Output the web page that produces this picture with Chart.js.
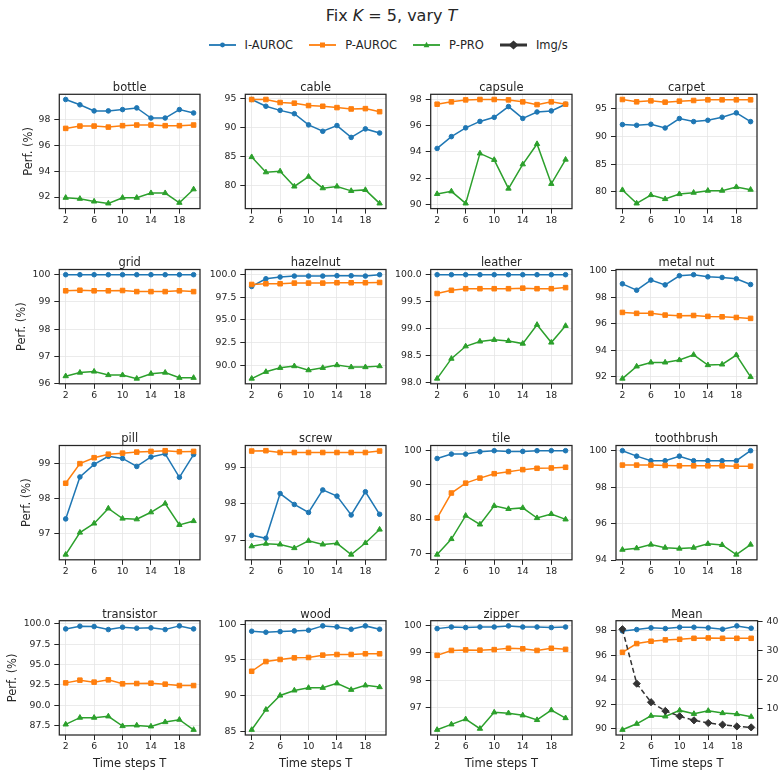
<!DOCTYPE html>
<html><head><meta charset="utf-8">
<script src="https://cdn.jsdelivr.net/npm/chart.js@4.4.0/dist/chart.umd.min.js"></script>
<style>
html,body{margin:0;padding:0;background:#fff;width:783px;height:778px;overflow:hidden;position:relative;font-family:'DejaVu Sans',sans-serif;color:#262626}
canvas{position:absolute}
#title{position:absolute;left:0;width:783px;top:5.5px;text-align:center;font-size:16px;line-height:20px;white-space:nowrap}
#legend{position:absolute;left:208.5px;top:38px;display:flex;align-items:center;font-size:11.5px;line-height:14px;white-space:nowrap}
.item{display:flex;align-items:center;margin-right:16px}
.item:last-child{margin-right:0}
.item svg{margin-right:9px;display:block}
</style></head><body>
<div id="title">Fix <i>K</i> = 5, vary <i>T</i></div>
<div id="legend">
 <div class="item"><svg width="27" height="14"><line x1="0" y1="7" x2="27" y2="7" stroke="#1f77b4" stroke-width="1.8"/><circle cx="13.5" cy="7" r="2.4" fill="#1f77b4"/></svg><span>I-AUROC</span></div>
 <div class="item"><svg width="27" height="14"><line x1="0" y1="7" x2="27" y2="7" stroke="#ff7f0e" stroke-width="1.8"/><rect x="11" y="4.5" width="5" height="5" fill="#ff7f0e"/></svg><span>P-AUROC</span></div>
 <div class="item"><svg width="27" height="14"><line x1="0" y1="7" x2="27" y2="7" stroke="#2ca02c" stroke-width="1.8"/><polygon points="13.5,3.8 10.6,9.3 16.4,9.3" fill="#2ca02c"/></svg><span>P-PRO</span></div>
 <div class="item"><svg width="27" height="14"><line x1="0" y1="7" x2="27" y2="7" stroke="#333" stroke-width="3"/><polygon points="8.5,7 13.5,2.5 18.5,7 13.5,11.5" fill="#333"/></svg><span>Img/s</span></div>
</div>
<script>
// ---------------- DATA ----------------
const categories = ['bottle','cable','capsule','carpet','grid','hazelnut','leather','metal nut','pill','screw','tile','toothbrush','transistor','wood','zipper','Mean'];
const timeSteps = [2,4,6,8,10,12,14,16,18,20];
const xTickLabels = ['2','6','10','14','18'];

const iAuroc = [
  [99.53,99.12,98.65,98.65,98.75,98.88,98.10,98.10,98.75,98.49],
  [94.88,93.71,93.00,92.42,90.49,89.38,90.37,88.32,89.79,89.08],
  [94.27,95.17,95.84,96.33,96.64,97.46,96.56,97.05,97.13,97.64],
  [92.16,92.04,92.22,91.55,93.25,92.70,92.94,93.49,94.27,92.70],
  [100,100,100,100,100,100,100,100,100,100],
  [98.70,99.55,99.74,99.85,99.85,99.85,99.89,99.89,99.85,100.0],
  [100,100,100,100,100,100,100,100,100,100],
  [99.01,98.53,99.29,98.93,99.62,99.70,99.54,99.49,99.39,98.96],
  [97.41,98.61,98.97,99.20,99.14,98.91,99.18,99.27,98.60,99.25],
  [97.13,97.05,98.28,97.98,97.76,98.38,98.21,97.69,98.33,97.71],
  [97.72,99.01,99.01,99.70,100,99.80,99.80,100,100,100],
  [100,99.70,99.45,99.45,99.70,99.45,99.45,99.45,99.45,100],
  [99.38,99.71,99.67,99.30,99.59,99.47,99.51,99.30,99.75,99.38],
  [99.01,98.87,98.96,99.06,99.15,99.76,99.62,99.29,99.76,99.29],
  [99.89,99.95,99.93,99.95,99.95,99.99,99.95,99.95,99.93,99.95],
  [97.97,98.08,98.22,98.16,98.27,98.27,98.22,98.11,98.38,98.19]
];
const pAuroc = [
  [97.30,97.48,97.48,97.40,97.51,97.56,97.56,97.51,97.51,97.56],
  [94.88,94.88,94.36,94.24,93.83,93.71,93.48,93.24,93.30,92.77],
  [97.64,97.82,97.97,98.00,98.00,97.97,97.82,97.61,97.82,97.64],
  [96.69,96.27,96.45,96.21,96.39,96.51,96.63,96.63,96.63,96.63],
  [99.41,99.43,99.41,99.41,99.42,99.38,99.38,99.38,99.41,99.38],
  [98.92,99.00,99.00,99.07,99.07,99.07,99.11,99.11,99.11,99.14],
  [99.65,99.71,99.74,99.74,99.74,99.74,99.75,99.74,99.74,99.76],
  [96.85,96.78,96.78,96.65,96.60,96.62,96.55,96.52,96.47,96.40],
  [98.43,98.99,99.16,99.26,99.29,99.32,99.34,99.36,99.33,99.34],
  [99.45,99.46,99.41,99.41,99.41,99.41,99.41,99.41,99.41,99.45],
  [80.30,87.62,90.50,91.98,93.27,93.86,94.46,94.85,94.95,95.15],
  [99.21,99.21,99.21,99.19,99.17,99.17,99.17,99.17,99.15,99.15],
  [92.76,93.09,92.85,93.13,92.64,92.68,92.72,92.60,92.43,92.43],
  [93.40,94.76,95.05,95.28,95.33,95.66,95.75,95.75,95.85,95.85],
  [98.91,99.09,99.11,99.10,99.12,99.17,99.15,99.09,99.17,99.13],
  [96.23,96.94,97.13,97.24,97.29,97.37,97.40,97.37,97.37,97.37]
];
const pPro = [
  [91.95,91.87,91.66,91.51,91.95,91.95,92.31,92.31,91.56,92.60],
  [84.92,82.29,82.46,79.83,81.53,79.53,79.83,79.07,79.24,76.90],
  [90.80,91.00,90.08,93.89,93.40,91.21,93.06,94.61,91.57,93.42],
  [80.36,77.94,79.45,78.73,79.63,79.88,80.24,80.24,80.90,80.42],
  [96.28,96.41,96.45,96.32,96.32,96.19,96.37,96.41,96.22,96.22],
  [88.51,89.26,89.70,89.89,89.44,89.70,90.00,89.78,89.78,89.89],
  [98.07,98.44,98.67,98.76,98.79,98.77,98.72,99.07,98.74,99.05],
  [91.85,92.77,93.07,93.07,93.25,93.65,92.87,92.92,93.63,91.98],
  [96.39,97.02,97.28,97.71,97.42,97.40,97.60,97.85,97.24,97.35],
  [96.83,96.90,96.88,96.78,96.98,96.88,96.91,96.60,96.92,97.29],
  [69.60,74.16,80.99,78.42,83.86,82.97,83.27,80.30,81.49,79.90],
  [94.57,94.65,94.85,94.68,94.63,94.68,94.89,94.83,94.30,94.85],
  [87.66,88.49,88.49,88.65,87.46,87.54,87.42,87.95,88.24,87.00],
  [85.19,88.02,90.00,90.71,91.08,91.08,91.70,90.80,91.42,91.18],
  [96.18,96.38,96.57,96.22,96.82,96.79,96.71,96.54,96.90,96.61],
  [89.92,90.41,91.06,91.01,91.50,91.22,91.47,91.28,91.20,90.98]
];
const imgPerSec = [37.46,18.7,12.3,9.3,7.45,6.06,5.13,4.55,3.97,3.63];

const yTickLabels = [
  ['92','94','96','98'],
  ['80','85','90','95'],
  ['90','92','94','96','98'],
  ['80','85','90','95'],
  ['96','97','98','99','100'],
  ['90.0','92.5','95.0','97.5','100.0'],
  ['98.0','98.5','99.0','99.5','100.0'],
  ['92','94','96','98','100'],
  ['97','98','99'],
  ['97','98','99'],
  ['70','80','90','100'],
  ['94','96','98','100'],
  ['87.5','90.0','92.5','95.0','97.5','100.0'],
  ['85','90','95','100'],
  ['97','98','99','100'],
  ['90','92','94','96','98']
];
const imgTickLabels = ['10','20','30','40'];

// ---------------- LAYOUT ----------------
Chart.defaults.font.family = "'DejaVu Sans', sans-serif";
Chart.defaults.color = '#262626';

const COL_L = [59.3, 245.3, 430.7, 616];
const ROW_T = [94.3, 269.5, 445.5, 620.7];
const BOX_W = 141.6, BOX_H = 114.3;
const YLABEL_CX = [29, 22, 27, 13];
const TICK_FONT = 9.3, LABEL_FONT = 11.5;
const GRID = {color:'#e6e6e6', lineWidth:0.8, tickLength:5, tickColor:'#262626', tickWidth:1};

const framePlugin = {
  id: 'frame',
  afterDatasetsDraw(chart) {
    const {ctx, chartArea: a} = chart;
    ctx.save();
    ctx.strokeStyle = '#262626';
    ctx.lineWidth = 1.25;
    ctx.strokeRect(a.left, a.top, a.right - a.left, a.bottom - a.top);
    ctx.restore();
  }
};

function series(label, values, color, style, radius, order, extra) {
  return Object.assign({
    label,
    data: timeSteps.map((t, k) => ({x: t, y: values[k]})),
    borderColor: color, backgroundColor: color,
    pointBackgroundColor: color, pointBorderColor: color,
    pointStyle: style, pointRadius: radius, pointBorderWidth: 1,
    borderWidth: 1.5, tension: 0, order, clip: false
  }, extra || {});
}

categories.forEach((name, i) => {
  const r = Math.floor(i / 4), c = i % 4;
  const boxL = COL_L[c], boxT = ROW_T[r];
  const isMean = name === 'Mean';
  const cl = c === 0 ? 0 : Math.floor(boxL - 45);
  const ct = Math.floor(boxT - 16);
  const yW = boxL - cl;
  const tH = boxT - ct;
  const rightW = isMean ? 783 - (boxL + BOX_W) : 0;
  const cw = isMean ? 783 - cl : Math.ceil(yW + BOX_W + 4);
  const xH = r === 3 ? 40 : 22;
  const ch = Math.ceil(tH + BOX_H + xH);
  const padR = Math.max(0, cw - yW - BOX_W - rightW);
  const padB = ch - tH - BOX_H - xH;

  const canvas = document.createElement('canvas');
  canvas.width = cw; canvas.height = ch;
  canvas.style.left = cl + 'px'; canvas.style.top = ct + 'px';
  canvas.style.width = cw + 'px'; canvas.style.height = ch + 'px';
  document.body.appendChild(canvas);

  const vals = iAuroc[i].concat(pAuroc[i], pPro[i]);
  const lo = Math.min(...vals), hi = Math.max(...vals), m = (hi - lo) * 0.05;
  const yt = yTickLabels[i];

  const datasets = [
    series('I-AUROC', iAuroc[i], '#1f77b4', 'circle', 2.3, 4),
    series('P-AUROC', pAuroc[i], '#ff7f0e', 'rect', 3.2, 3),
    series('P-PRO', pPro[i], '#2ca02c', 'triangle', 3.1, 2)
  ];
  if (isMean) {
    datasets.push(series('Img/s', imgPerSec, '#333333', 'rectRot', 3.6, 1,
      {yAxisID: 'y1', borderDash: [5, 3]}));
  }

  const scales = {
    x: {
      type: 'linear', min: 1.1, max: 20.9, bounds: 'data',
      afterBuildTicks: ax => { ax.ticks = xTickLabels.map(s => ({value: parseFloat(s)})); },
      afterFit: ax => { ax.height = xH; },
      ticks: {autoSkip: false, maxRotation: 0, minRotation: 0, padding: 1, font: {size: TICK_FONT}, color: '#262626',
              callback: (v, k) => xTickLabels[k]},
      grid: GRID, border: {display: false},
      title: r === 3 ? {display: true, text: 'Time steps T', font: {size: LABEL_FONT, lineHeight: 1}, color: '#262626',
                        padding: {top: 0, bottom: 5.6}} : {display: false}
    },
    y: {
      type: 'linear', position: 'left', min: lo - m, max: hi + m, bounds: 'data',
      afterBuildTicks: ax => { ax.ticks = yt.map(s => ({value: parseFloat(s)})); },
      afterFit: ax => { ax.width = yW; },
      ticks: {autoSkip: false, padding: 4, font: {size: TICK_FONT}, color: '#262626', callback: (v, k) => yt[k]},
      grid: GRID, border: {display: false},
      title: c === 0 ? {display: true, text: 'Perf. (%)', font: {size: LABEL_FONT, lineHeight: 1}, color: '#262626',
                        padding: {top: YLABEL_CX[r] - LABEL_FONT / 2, bottom: 0}} : {display: false}
    }
  };
  if (isMean) {
    scales.y1 = {
      type: 'linear', position: 'right', min: 1.0, max: 40.4, bounds: 'data',
      afterBuildTicks: ax => { ax.ticks = imgTickLabels.map(s => ({value: parseFloat(s)})); },
      afterFit: ax => { ax.width = rightW; },
      ticks: {autoSkip: false, padding: 4, font: {size: TICK_FONT}, color: '#262626', callback: (v, k) => imgTickLabels[k]},
      grid: {drawOnChartArea: false, tickLength: 5, tickColor: '#262626', tickWidth: 1},
      border: {display: false}
    };
  }

  new Chart(canvas, {
    type: 'line',
    data: {datasets},
    options: {
      responsive: false, animation: false, devicePixelRatio: 1, events: [],
      layout: {padding: {left: 0, top: 0, right: padR, bottom: padB}},
      scales,
      plugins: {
        legend: {display: false},
        tooltip: {enabled: false},
        title: {display: true, text: name, fullSize: false, color: '#262626',
                font: {size: LABEL_FONT, weight: 'normal', lineHeight: 1},
                padding: {top: tH - LABEL_FONT - 0.3, bottom: 0.3}}
      }
    },
    plugins: [framePlugin]
  });
});
</script>
</body></html>
